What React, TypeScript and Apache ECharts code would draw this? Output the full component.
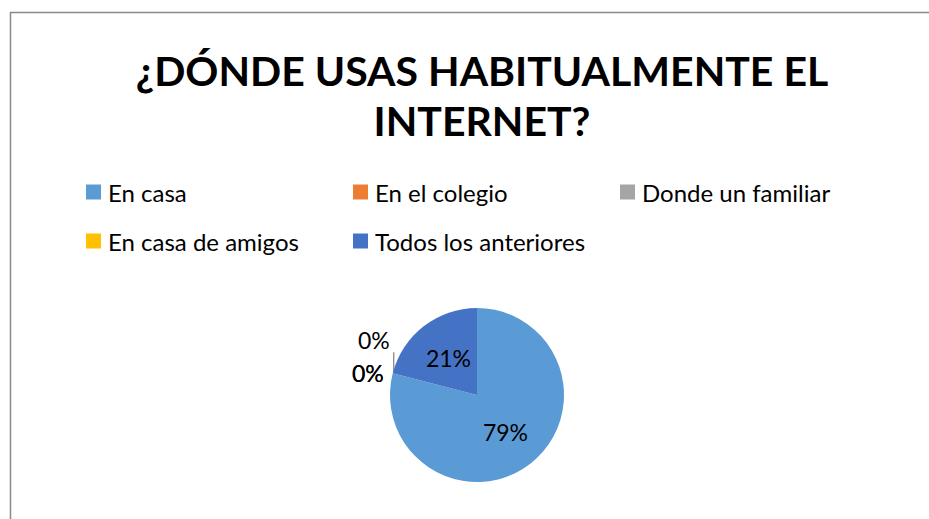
import React, { useEffect, useRef } from "react";
import * as echarts from "echarts";

const TITLE_LINES = ["¿DÓNDE USAS HABITUALMENTE EL", "INTERNET?"];
const CATEGORIES = ["En casa", "En el colegio", "Donde un familiar", "En casa de amigos", "Todos los anteriores"];
const VALUES = [79, 0, 0, 0, 21];
const COLORS = ["#5B9BD5", "#ED7D31", "#A5A5A5", "#FFC000", "#4472C4"];

const FONT = "Lato";
const LEGEND_POS = [
  { left: 81, top: 175 },
  { left: 348, top: 175 },
  { left: 615, top: 175 },
  { left: 81, top: 224 },
  { left: 348, top: 224 },
];

export default function App() {
  const ref = useRef<HTMLDivElement>(null);
  useEffect(() => {
    if (!ref.current) return;
    const chart = echarts.init(ref.current, undefined, { renderer: "svg" });
    const total = VALUES.reduce((a, b) => a + b, 0);
    const firstZero = VALUES.findIndex((v) => v === 0);
    chart.setOption({
      animation: false,
      backgroundColor: "#ffffff",
      color: COLORS,
      title: {
        text: TITLE_LINES.join("\n"),
        left: 477,
        textAlign: "center",
        top: 40,
        textStyle: {
          fontFamily: FONT,
          fontWeight: "bold",
          fontSize: 41,
          lineHeight: 50,
          color: "#000000",
        },
      },
      legend: CATEGORIES.map((c, i) => ({
        data: [c],
        left: LEGEND_POS[i].left,
        top: LEGEND_POS[i].top,
        icon: "rect",
        itemWidth: 15,
        itemHeight: 15,
        itemGap: 0,
        selectedMode: false,
        textStyle: { fontFamily: FONT, fontSize: 24, color: "#000000", padding: [0, 0, 0, 2] },
      })),
      graphic: [
        {
          type: "rect",
          shape: { x: 10.5, y: 12.5, width: 1000, height: 1000 },
          style: { fill: "none", stroke: "#898989", lineWidth: 1.5 },
          silent: true,
        },
      ],
      series: [
        {
          type: "pie",
          center: [477, 395],
          radius: 87,
          startAngle: 90,
          clockwise: true,
          avoidLabelOverlap: false,
          stillShowZeroSum: true,
          labelLayout: (p: any) => {
            if (p.dataIndex !== firstZero || !p.labelLinePoints) return {};
            const [x0, y0] = p.labelLinePoints[0];
            return {
              dx: 6,
              dy: -33,
              labelLinePoints: [
                [x0 + 1, y0 - 1],
                [x0 + 1, y0 - 11],
                [x0 + 1, y0 - 21],
              ],
            };
          },
          data: CATEGORIES.map((c, i) => ({
            name: c,
            value: VALUES[i],
            label:
              VALUES[i] > 0
                ? { show: true, position: "inside" }
                : { show: true, position: "outside" },
            labelLine:
              VALUES[i] > 0
                ? { show: false }
                : {
                    show: i === firstZero,
                    length: 2,
                    length2: 2,
                    lineStyle: { color: "#7f7f7f", width: 1.2 },
                  },
          })),
          label: {
            formatter: (p: any) => `${Math.round((p.value / total) * 100)}%`,
            fontFamily: FONT,
            fontSize: 23,
            color: "#000000",
          },
          itemStyle: { borderColor: "#ffffff", borderWidth: 0 },
        },
      ],
    });
    return () => chart.dispose();
  }, []);
  return (
    <div
      ref={ref}
      style={{ position: "absolute", left: 0, top: 0, width: 929, height: 519 }}
    />
  );
}
